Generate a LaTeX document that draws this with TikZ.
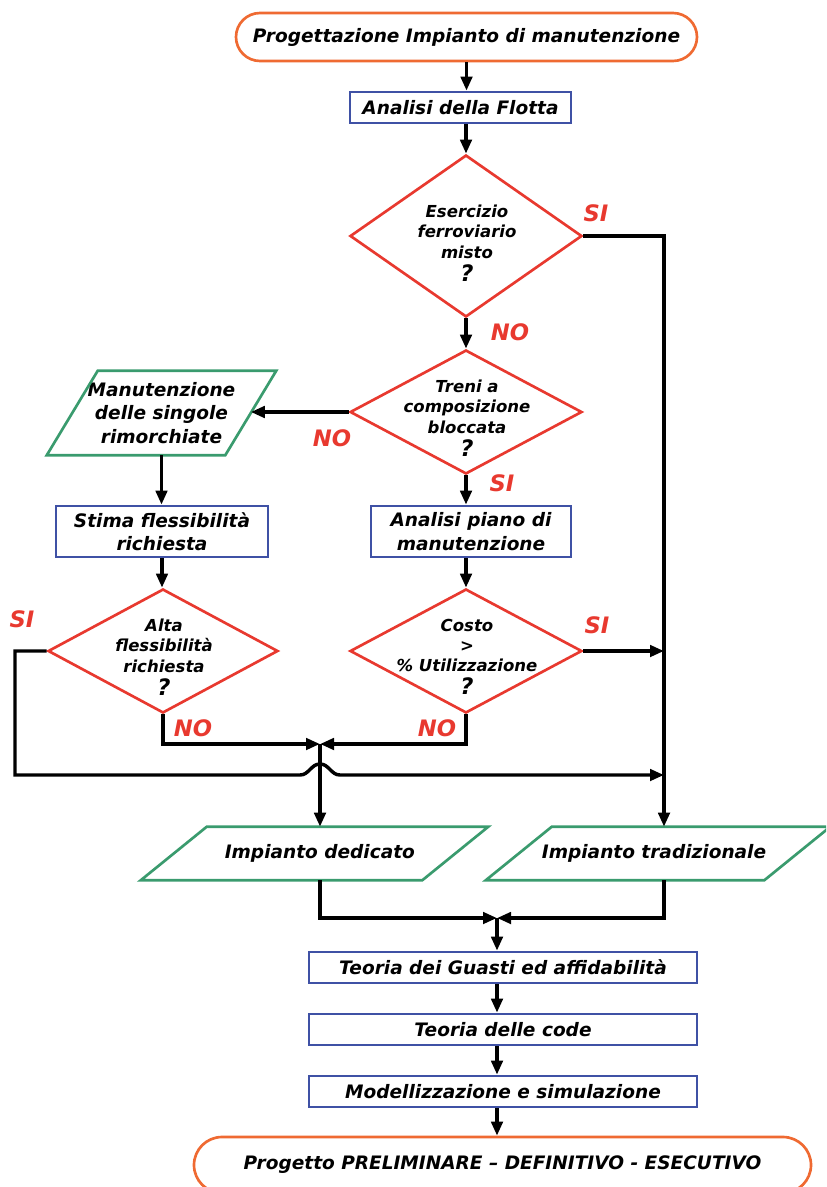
\documentclass[tikz,border=0pt]{standalone}
\usepackage{fontspec}
\setmainfont{DejaVu Sans}
\usetikzlibrary{shapes.geometric,arrows.meta,calc}
\definecolor{corange}{HTML}{EF6A32}
\definecolor{cblue}{HTML}{3F51A5}
\definecolor{cred}{HTML}{E8392F}
\definecolor{cgreen}{HTML}{3A9B6E}
\newcommand\mainf{\fontsize{13.9}{17.5}\selectfont\bfseries\itshape}
\newcommand\diaf{\fontsize{12.4}{15.2}\selectfont\bfseries\itshape}
\newcommand\labf{\fontsize{17}{18}\selectfont\bfseries\itshape}
\newcommand\qmark{{\fontsize{17}{15}\selectfont ?}}
\newcommand\parallelo[2]{\draw[para] ($(#1.north west)+(#2,0)$) -- ($(#1.north east)+(#2,0)$) -- ($(#1.south east)+(-#2,0)$) -- ($(#1.south west)+(-#2,0)$) -- cycle;}
\tikzset{
 conn/.style={line width=2.6pt, -{Triangle[length=10.5pt,width=8.5pt]}},
 box/.style={draw=cblue, line width=2pt, rectangle, inner sep=0pt, align=center, font=\mainf},
 term/.style={draw=corange, line width=2pt, rectangle, inner sep=0pt, align=center, font=\mainf},
 dia/.style={draw=cred, line width=2pt, diamond, inner sep=0pt},
 dtext/.style={align=center, font=\diaf, inner sep=0pt},
 ptext/.style={rectangle, inner sep=0pt, align=center, font=\mainf},
 para/.style={draw=cgreen, line width=2pt},
 lab/.style={text=cred, font=\labf, inner sep=0pt},
}
\begin{document}
\begin{tikzpicture}[x=0.75pt,y=-0.75pt]
\useasboundingbox (0,0) rectangle (826,1187);
\begin{scope}
\clip (0,0) rectangle (826,1187);
% terminals
\node[term, rounded corners=18pt, minimum width=345.75pt, minimum height=36pt] (t1) at (466.5,37) {Progettazione Impianto di manutenzione};
\node[term, rounded corners=21pt, minimum width=462.75pt, minimum height=42pt] (t2) at (502.5,1165) {Progetto PRELIMINARE -- DEFINITIVO - ESECUTIVO};
% boxes
\node[box, minimum width=165.75pt, minimum height=23.25pt] (fl) at (460.5,107.5) {Analisi della Flotta};
\node[box, minimum width=159pt, minimum height=38.25pt] (st) at (162,531.5) {Stima flessibilità\\richiesta};
\node[box, minimum width=150pt, minimum height=38.25pt] (ap) at (471,531.5) {Analisi piano di\\manutenzione};
\node[box, minimum width=291pt, minimum height=23.25pt] (g1) at (503,967.5) {Teoria dei Guasti ed affidabilità};
\node[box, minimum width=291pt, minimum height=23.25pt] (g2) at (503,1029.5) {Teoria delle code};
\node[box, minimum width=291pt, minimum height=23.25pt] (g3) at (503,1091.5) {Modellizzazione e simulazione};
% diamonds
\node[dia, minimum width=174pt, minimum height=121.5pt] (d1) at (466,236) {};
\node[dtext] (d1t) at (467,243) {Esercizio\\ferroviario\\misto\\[2pt]\qmark};
\node[dia, minimum width=174pt, minimum height=93pt] (d2) at (466,412) {};
\node[dtext] (d2t) at (467,418) {Treni a\\composizione\\bloccata\\[2pt]\qmark};
\node[dia, minimum width=172.5pt, minimum height=93pt] (d3) at (163,651) {};
\node[dtext] (d3t) at (164,657) {Alta\\flessibilità\\richiesta\\[2pt]\qmark};
\node[dia, minimum width=174pt, minimum height=93pt] (d4) at (466,651) {};
\node[dtext] (d4t) at (467,657) {Costo\\>\\\% Utilizzazione\\[2pt]\qmark};
% parallelograms
\node[ptext, minimum width=133.5pt, minimum height=63pt] (p1) at (161.5,413) {Manutenzione\\delle singole\\rimorchiate};
\parallelo{p1}{25.5}
\node[ptext, minimum width=210.75pt, minimum height=39.75pt] (pd) at (314.5,853.5) {\hspace*{8pt}Impianto dedicato};
\parallelo{pd}{33}
\node[ptext, minimum width=208.5pt, minimum height=39.75pt] (pt) at (658,853.5) {Impianto tradizionale\hspace*{6pt}};
\parallelo{pt}{33}
% labels
\node[lab] (l1) at (596,213) {SI};
\node[lab] (l2) at (510,332) {NO};
\node[lab] (l3) at (332,438) {NO};
\node[lab] (l4) at (502,483) {SI};
\node[lab] (l5) at (22,619) {SI};
\node[lab] (l6) at (193,728) {NO};
\node[lab] (l7) at (597,625) {SI};
\node[lab] (l8) at (437,728) {NO};
% coordinates
\coordinate (rt) at (664,236);
\coordinate (mj) at (320,744);
\coordinate (lb) at (15,775);
\coordinate (bj) at (497,918);
% connectors
\draw[conn] (t1.south) -- (t1.south |- fl.north);
\draw[conn] (d1.north |- fl.south) -- (d1.north);
\draw[conn] (d1.east) -- (rt) -- (rt |- pt.north);
\draw[conn] (d1.south) -- (d2.north);
\draw[conn] (d2.west) -- (d2.west -| p1.east);
\draw[conn] (p1.south) -- (p1.south |- st.north);
\draw[conn] (d2.south) -- (d2.south |- ap.north);
\draw[conn] (st.south) -- (st.south |- d3.north);
\draw[conn] (d4.north |- ap.south) -- (d4.north);
\draw[conn] (d4.east) -- (d4.east -| rt);
\draw[conn] (d4.south) |- (mj);
\draw[conn] (d3.south) |- (mj);
\draw[conn] (mj) -- (mj |- pd.north);
\draw[conn] (d3.west) -| (lb) -- (300,775) .. controls (309,775) and (311,764) .. (320,764) .. controls (329,764) and (331,775) .. (340,775) -- (lb -| rt);
\draw[conn] (mj |- pd.south) |- (bj);
\draw[conn] (rt |- pt.south) |- (bj);
\draw[conn] (bj) -- (bj |- g1.north);
\draw[conn] (bj |- g1.south) -- (bj |- g2.north);
\draw[conn] (bj |- g2.south) -- (bj |- g3.north);
\draw[conn] (bj |- g3.south) -- (bj |- t2.north);
\end{scope}
\end{tikzpicture}
\end{document}
